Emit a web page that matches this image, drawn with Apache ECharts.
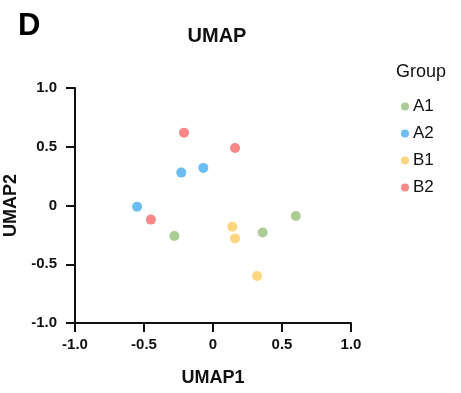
<!DOCTYPE html>
<html>
<head>
<meta charset="utf-8">
<script src="https://cdn.jsdelivr.net/npm/echarts@6/dist/echarts.min.js"></script>
<style>
    html, body { margin: 0; padding: 0; background: #fff; }
    #umap { width: 461px; height: 393px; }
</style>
</head>
<body>
<div id="umap"></div>
<script>
// group names and colours
var groups = ['A1', 'A2', 'B1', 'B2'];
var colors = ['#abcc95', '#6cbdf3', '#fdd67f', '#f88888'];

// UMAP coordinates per group, [UMAP1, UMAP2]
var A1 = [[-0.28, -0.26], [0.36, -0.23], [0.60, -0.09]];
var A2 = [[-0.55, -0.01], [-0.23, 0.28], [-0.07, 0.32]];
var B1 = [[0.14, -0.18], [0.16, -0.28], [0.32, -0.60]];
var B2 = [[-0.21, 0.62], [0.16, 0.49], [-0.45, -0.12]];
var groupData = [A1, A2, B1, B2];

var tickLabels = { '-1': '-1.0', '-0.5': '-0.5', '0': '0', '0.5': '0.5', '1': '1.0' };

var font = 'Liberation Sans, Arial, sans-serif';
var chart = echarts.init(document.getElementById('umap'));

function axisCfg(name, gap, margin) {
    return {
        type: 'value',
        min: -1,
        max: 1,
        interval: 0.5,
        name: name,
        nameLocation: 'middle',
        nameGap: gap,
        nameTextStyle: { color: '#111', fontSize: 18, fontWeight: 'bold', fontFamily: font },
        splitLine: { show: false },
        axisLine: { show: true, onZero: false, lineStyle: { color: '#111', width: 2 } },
        axisTick: { show: true, inside: false, length: 9, lineStyle: { color: '#111', width: 2 } },
        axisLabel: {
            color: '#111', fontSize: 15, fontWeight: 'bold', fontFamily: font, margin: margin,
            formatter: function (v) { return tickLabels[String(v)] || v; }
        }
    };
}

var xAxis = axisCfg('UMAP1', 46, 14);
var yAxis = axisCfg('UMAP2', 54, 18);

chart.setOption({
    animation: false,
    title: [
        { text: 'D', left: 13, top: 6, textStyle: { fontSize: 31, fontWeight: 'bold', color: '#000', fontFamily: font } },
        { text: 'UMAP', left: 212, top: 21, textAlign: 'center', textStyle: { fontSize: 20, fontWeight: 'bold', color: '#111', fontFamily: font } },
        { text: 'Group', left: 391, top: 58, textStyle: { fontSize: 18, fontWeight: 'normal', color: '#111', fontFamily: font } }
    ],
    legend: {
        orient: 'vertical',
        left: 396,
        top: 93,
        itemGap: 10,
        itemWidth: 8,
        itemHeight: 8,
        icon: 'circle',
        textStyle: { fontSize: 17, color: '#111', fontFamily: font, padding: [0, 0, 0, -1] },
        data: groups
    },
    grid: { left: 75, right: 110, top: 88, bottom: 70, containLabel: false, outerBoundsMode: 'none' },
    xAxis: xAxis,
    yAxis: yAxis,
    series: groups.map(function (g, i) {
        return {
            name: g,
            type: 'scatter',
            symbolSize: 10,
            itemStyle: { color: colors[i], opacity: 1 },
            data: groupData[i]
        };
    })
});
</script>
</body>
</html>
